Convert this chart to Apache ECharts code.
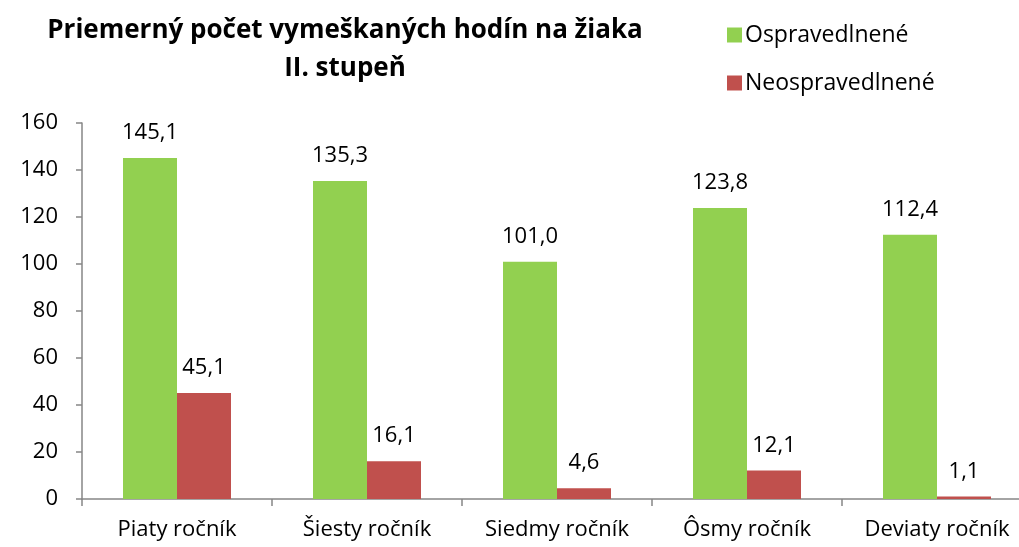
<!DOCTYPE html>
<html>
<head>
<meta charset="utf-8">
<script src="https://cdn.jsdelivr.net/npm/echarts@6/dist/echarts.min.js"></script>
<style>html,body{margin:0;padding:0;background:#fff}#c{width:1019px;height:547px}</style>
</head>
<body>
<div id="c"></div>
<script>
const categories = ['Piaty ročník', 'Šiesty ročník', 'Siedmy ročník', 'Ôsmy ročník', 'Deviaty ročník'];
const ospravedlnene = [145.1, 135.3, 101.0, 123.8, 112.4];
const neospravedlnene = [45.1, 16.1, 4.6, 12.1, 1.1];
const seriesNames = ['Ospravedlnené', 'Neospravedlnené'];
const titleLines = ['Priemerný počet vymeškaných hodín na žiaka', 'II. stupeň'];

const FONT = 'Open Sans';
const chart = echarts.init(document.getElementById('c'));
const fmt = p => p.value.toFixed(1).replace('.', ',');
chart.setOption({
  animation: false,
  title: {
    text: titleLines.join('\n'),
    left: 340, top: 7, textAlign: 'center',
    textStyle: {fontFamily: FONT, fontWeight: 'bold', fontSize: 26, color: '#000', lineHeight: 38}
  },
  legend: {
    orient: 'vertical', left: 722, top: 18, itemGap: 24,
    itemWidth: 15, itemHeight: 15, icon: 'rect',
    textStyle: {fontFamily: FONT, fontSize: 23, lineHeight: 24, color: '#000', padding: [0,0,0,-2]},
    data: seriesNames
  },
  grid: {left: 82, width: 950, top: 123, bottom: 48, containLabel: false, outerBoundsMode: 'none'},
  xAxis: {
    type: 'category', data: categories,
    axisLine: {lineStyle: {color: '#868686', width: 1.5}},
    axisTick: {show: true, length: 7, lineStyle: {color: '#868686', width: 1.5}},
    axisLabel: {fontFamily: FONT, fontSize: 22, color: '#000', margin: 20}
  },
  yAxis: {
    type: 'value', min: 0, max: 160, interval: 20,
    splitLine: {show: false},
    axisLine: {show: true, lineStyle: {color: '#868686', width: 1.5}},
    axisTick: {show: true, length: 6, lineStyle: {color: '#868686', width: 1.5}},
    axisLabel: {fontFamily: FONT, fontSize: 22, color: '#000', margin: 24}
  },
  series: [
    {name: seriesNames[0], type: 'bar', data: ospravedlnene, barWidth: 54, barGap: '0%',
     itemStyle: {color: '#92D050'},
     label: {show: true, position: 'top', distance: 14, formatter: fmt, fontFamily: FONT, fontSize: 22, color: '#000'}},
    {name: seriesNames[1], type: 'bar', data: neospravedlnene, barWidth: 54,
     itemStyle: {color: '#C0504D'},
     label: {show: true, position: 'top', distance: 14, formatter: fmt, fontFamily: FONT, fontSize: 22, color: '#000'}}
  ]
});
</script>
</body>
</html>
